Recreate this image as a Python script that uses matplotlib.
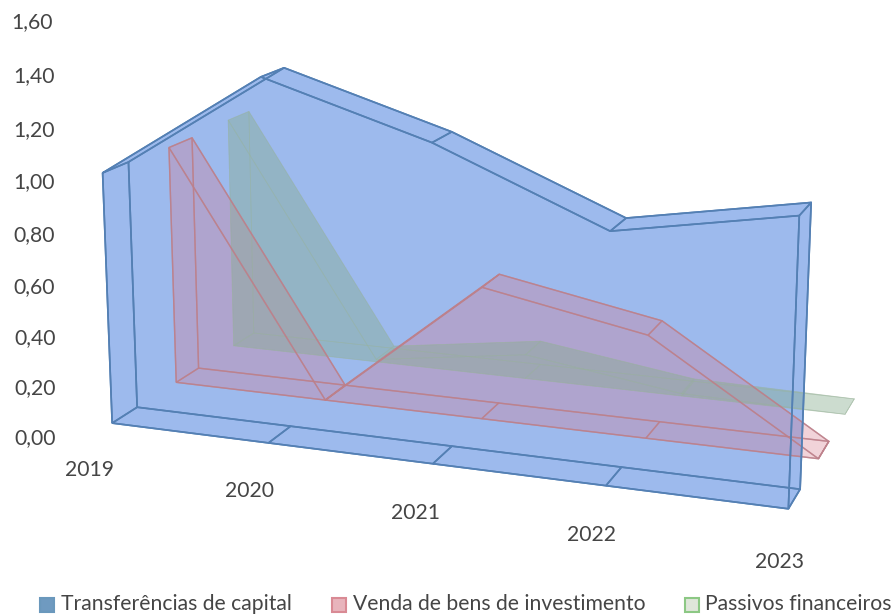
import numpy as np
import matplotlib
matplotlib.use('Agg')
import matplotlib.pyplot as plt
from matplotlib.colors import to_rgba
from mpl_toolkits.mplot3d.art3d import Poly3DCollection, Line3DCollection

W, H = 893, 614

years = ['2019', '2020', '2021', '2022', '2023']
capital = [0.97, 1.37, 1.18, 0.92, 1.03]
investimento = [0.96, 0.00, 0.52, 0.40, 0.00]
passivos = [0.97, 0.01, 0.10, 0.01, 0.00]
y_labels = ['0,00', '0,20', '0,40', '0,60', '0,80', '1,00', '1,20', '1,40', '1,60']
names = ['Transferências de capital', 'Venda de bens de investimento', 'Passivos financeiros']

plt.rcParams['font.family'] = ['Lato', 'DejaVu Sans']
TEXT = '#454545'
THICK = 0.3766
FONT = 15.2


def add_series(ax, vals, depth, fill, alpha, edge, lw, z_fill, z_edge):
    """one 3D area: two faces, top and bottom ribbon, end caps"""
    d0, d1 = depth, depth + THICK
    xs = np.arange(len(vals))
    faces = []
    for d in (d1, d0):
        faces.append([(x, d, v) for x, v in zip(xs, vals)] + [(xs[-1], d, 0), (0, d, 0)])
    ribbons = []
    for i in xs[:-1]:
        ribbons.append([(i, d0, vals[i]), (i + 1, d0, vals[i + 1]), (i + 1, d1, vals[i + 1]), (i, d1, vals[i])])
        ribbons.append([(i, d0, 0), (i + 1, d0, 0), (i + 1, d1, 0), (i, d1, 0)])
    for i in (0, xs[-1]):
        ribbons.append([(i, d0, 0), (i, d1, 0), (i, d1, vals[i]), (i, d0, vals[i])])
    polys = [faces[0]] + ribbons + [faces[1]]
    coll = Poly3DCollection(polys, zorder=z_fill)
    coll.set_facecolor(to_rgba(fill, alpha))
    coll.set_edgecolor('none')
    ax.add_collection3d(coll, autolim=False)
    lines = Line3DCollection([p + [p[0]] for p in polys], colors=[edge], linewidths=lw, zorder=z_edge)
    ax.add_collection3d(lines, autolim=False)


fig = plt.figure(figsize=(W / 100, H / 100), dpi=100)
S = 4686.992 * 0.185
ax = fig.add_axes([59.91 / W, -30.93 / H, S / W, S / H], projection='3d')
ax.set_xlim(0, 4)
ax.set_ylim(0, 3)
ax.set_zlim(0, 1.6)
ax.view_init(13.4724, -71.0381, -0.3061)
ax.set_proj_type('persp', focal_length=0.4718)
ax.set_box_aspect((1, 0.6052, 0.6169))
ax.computed_zorder = False
ax.set_axis_off()
ax.patch.set_alpha(0)

add_series(ax, capital, 0, '#6794E4', 0.40, '#5480b4', 1.2, 1, 6)
add_series(ax, investimento, 1, '#D87C90', 0.18, (0.74, 0.50, 0.54, 0.75), 1.0, 2, 5)
add_series(ax, passivos, 2, '#88AE90', 0.24, (0.60, 0.70, 0.60, 0.35), 0.5, 3, 4)


def fig_text(px, py, s, **kw):
    fig.text(px / W, 1 - py / H, s, color=TEXT, va='center', fontsize=FONT, **kw)


for lab, py, px in zip(y_labels, (438, 388, 338, 287, 235, 182, 130, 76, 22), (14, 14, 14, 13, 13, 13, 13, 13, 11)):
    fig_text(px, py, lab, ha='left')
for lab, px, py in zip(years, (90, 250, 416, 591, 779), (470, 491, 513, 535, 562)):
    fig_text(px, py, lab, ha='center')

for name, tx, sx, col, fc in zip(names, (61, 353, 705), (40, 332, 685),
                                 ('#6a98bc', '#d98a94', '#8cc884'),
                                 ('#6f9ac0', '#e8b4bc', '#dfe6da')):
    fig_text(tx, 604, name, ha='left')
    fig.add_artist(plt.Rectangle((sx / W, 1 - 612 / H), 14 / W, 14 / H, transform=fig.transFigure,
                                 facecolor=fc, edgecolor=col, linewidth=1.5))

fig.savefig('out.png')
